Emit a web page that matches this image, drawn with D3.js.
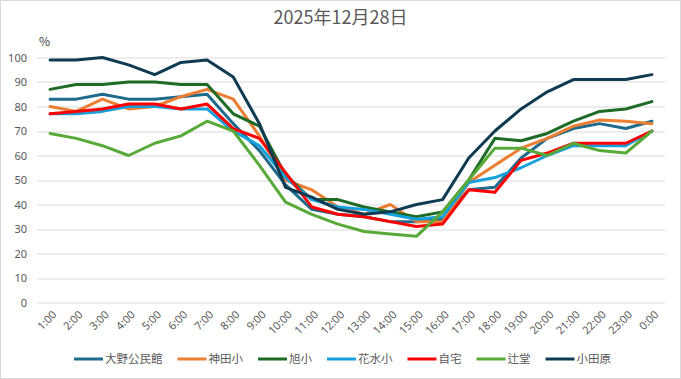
<!DOCTYPE html>
<html>
<head>
<meta charset="utf-8">
<script src="https://cdn.jsdelivr.net/npm/d3@7"></script>
<style>
  body { margin: 0; background: #fff; }
  text { font-family: 'Noto Sans CJK JP', 'Noto Sans', sans-serif; fill: #595959; }
</style>
</head>
<body>
<div id="chart"></div>
<script>
'use strict';

var hours = [ '1:00', '2:00', '3:00', '4:00', '5:00', '6:00', '7:00', '8:00', '9:00', '10:00',
  '11:00', '12:00', '13:00', '14:00', '15:00', '16:00', '17:00', '18:00', '19:00', '20:00',
  '21:00', '22:00', '23:00', '0:00' ];

var oono   = [ 83, 83, 85, 83, 83, 84, 85, 73, 62, 48, 38, 36, 35, 33, 33, 34, 46, 47, 59, 67, 71, 73, 71, 74 ];
var kanda  = [ 80, 78, 83, 79, 80, 84, 87, 83, 68, 50, 46, 39, 36, 40, 33, 33, 49, 56, 63, 67, 72, 74.5, 74, 73 ];
var asahi  = [ 87, 89, 89, 90, 90, 89, 89, 77, 72, 52, 42, 42, 39, 37, 35, 37, 50, 67, 66, 69, 74, 78, 79, 82 ];
var hanami = [ 77, 77, 78, 80, 80, 79, 79, 70, 64, 51, 42, 39, 38, 36, 34, 35, 49, 51, 55, 60, 64, 64, 64, 70 ];
var jitaku = [ 77, 78, 79, 81, 81, 79, 81, 71, 67, 53, 39, 36, 35, 33, 31, 32, 46, 45, 58, 61, 65, 65, 65, 70 ];
var tsuji  = [ 69, 67, 64, 60, 65, 68, 74, 70, 56, 41, 36, 32, 29, 28, 27, 37, 50, 63, 63, 60, 65, 62, 61, 70 ];
var odawara = [ 99, 99, 100, 97, 93, 98, 99, 92, 73, 47, 43, 38, 36, 37, 40, 42, 59, 70, 79, 86, 91, 91, 91, 93 ];

var seriesNames = [ '大野公民館', '神田小', '旭小', '花水小', '自宅', '辻堂', '小田原' ];
var seriesValues = [ oono, kanda, asahi, hanami, jitaku, tsuji, odawara ];
var seriesColors = [ '#1E6A8D', '#ED7D31', '#1D6B25', '#17A1DC', '#FF0000', '#58AA38', '#0F3B52' ];

var yTicks = [ 0, 10, 20, 30, 40, 50, 60, 70, 80, 90, 100 ];

var W = 681, H = 379;
var margin = { top: 57.5, right: 16, bottom: 76.5, left: 37 };
var width = W - margin.left - margin.right,
    height = H - margin.top - margin.bottom;

var svg = d3.select( '#chart' )
  .append( 'svg' )
    .attr( 'width', W )
    .attr( 'height', H );

svg.append( 'rect' )
    .attr( 'x', 0.5 ).attr( 'y', 0.5 )
    .attr( 'width', W - 1 ).attr( 'height', H - 1 )
    .attr( 'fill', '#fff' )
    .attr( 'stroke', '#d9d9d9' );

// title and unit
svg.append( 'text' )
    .attr( 'x', W / 2 )
    .attr( 'y', 24 )
    .attr( 'text-anchor', 'middle' )
    .style( 'font-size', '18px' )
    .text( '2025年12月28日' );

svg.append( 'text' )
    .attr( 'x', 39 )
    .attr( 'y', 46 )
    .style( 'font-size', '12px' )
    .style( 'fill', '#404040' )
    .text( '%' );

var g = svg.append( 'g' )
    .attr( 'transform', 'translate(' + margin.left + ',' + margin.top + ')' );

var x = d3.scalePoint()
    .domain( hours )
    .range( [ 0, width ] )
    .padding( 0.5 );

var y = d3.scaleLinear()
    .domain( [ 0, 100 ] )
    .range( [ height, 0 ] );

// gridlines
g.selectAll( '.grid' )
    .data( yTicks )
  .enter().append( 'line' )
    .attr( 'x1', 0 )
    .attr( 'x2', width )
    .attr( 'y1', function( d ) { return Math.round( y( d ) ) + 0.5; } )
    .attr( 'y2', function( d ) { return Math.round( y( d ) ) + 0.5; } )
    .attr( 'stroke', '#d9d9d9' )
    .attr( 'stroke-width', 1 );

// y axis labels
var yAxis = g.append( 'g' )
    .call( d3.axisLeft( y ).tickValues( yTicks ).tickSize( 0 ).tickPadding( 10 ) );
yAxis.select( '.domain' ).remove();
yAxis.selectAll( 'text' )
    .style( 'font-size', '11px' )
    .style( 'font-family', "'Noto Sans', sans-serif" )
    .attr( 'fill', '#595959' );

// x axis labels, rotated
var xAxis = g.append( 'g' )
    .attr( 'transform', 'translate(0,' + height + ')' )
    .call( d3.axisBottom( x ).tickSize( 0 ) );
xAxis.select( '.domain' ).remove();
xAxis.selectAll( 'text' )
    .style( 'font-size', '11px' )
    .style( 'font-family', "'Noto Sans', sans-serif" )
    .attr( 'fill', '#595959' )
    .attr( 'text-anchor', 'end' )
    .attr( 'dy', '0.35em' )
    .attr( 'y', 0 )
    .attr( 'transform', 'translate(4,10) rotate(-45)' );

// lines
var line = d3.line()
    .x( function( d, i ) { return x( hours[ i ] ); } )
    .y( function( d ) { return y( d ); } );

seriesValues.forEach( function( vals, k ) {
  g.append( 'path' )
      .datum( vals )
      .attr( 'd', line )
      .attr( 'fill', 'none' )
      .attr( 'stroke', seriesColors[ k ] )
      .attr( 'stroke-width', 3 )
      .attr( 'stroke-linejoin', 'round' )
      .attr( 'stroke-linecap', 'round' );
} );

// legend
var legend = svg.append( 'g' );
var lx = 0;
seriesNames.forEach( function( name, k ) {
  var item = legend.append( 'g' ).attr( 'transform', 'translate(' + lx + ',0)' );
  item.append( 'line' )
      .attr( 'x1', 0 ).attr( 'x2', 29 )
      .attr( 'y1', 0 ).attr( 'y2', 0 )
      .attr( 'stroke', seriesColors[ k ] )
      .attr( 'stroke-width', 3 );
  var t = item.append( 'text' )
      .attr( 'x', 31 )
      .attr( 'y', 0 )
      .attr( 'dy', '0.35em' )
      .style( 'font-size', '11.5px' )
      .text( name );
  lx += 31 + t.node().getComputedTextLength() + 15;
} );
lx -= 15;
legend.attr( 'transform', 'translate(' + ( ( W - lx ) / 2 + 2 ) + ',359)' );
</script>
</body>
</html>
